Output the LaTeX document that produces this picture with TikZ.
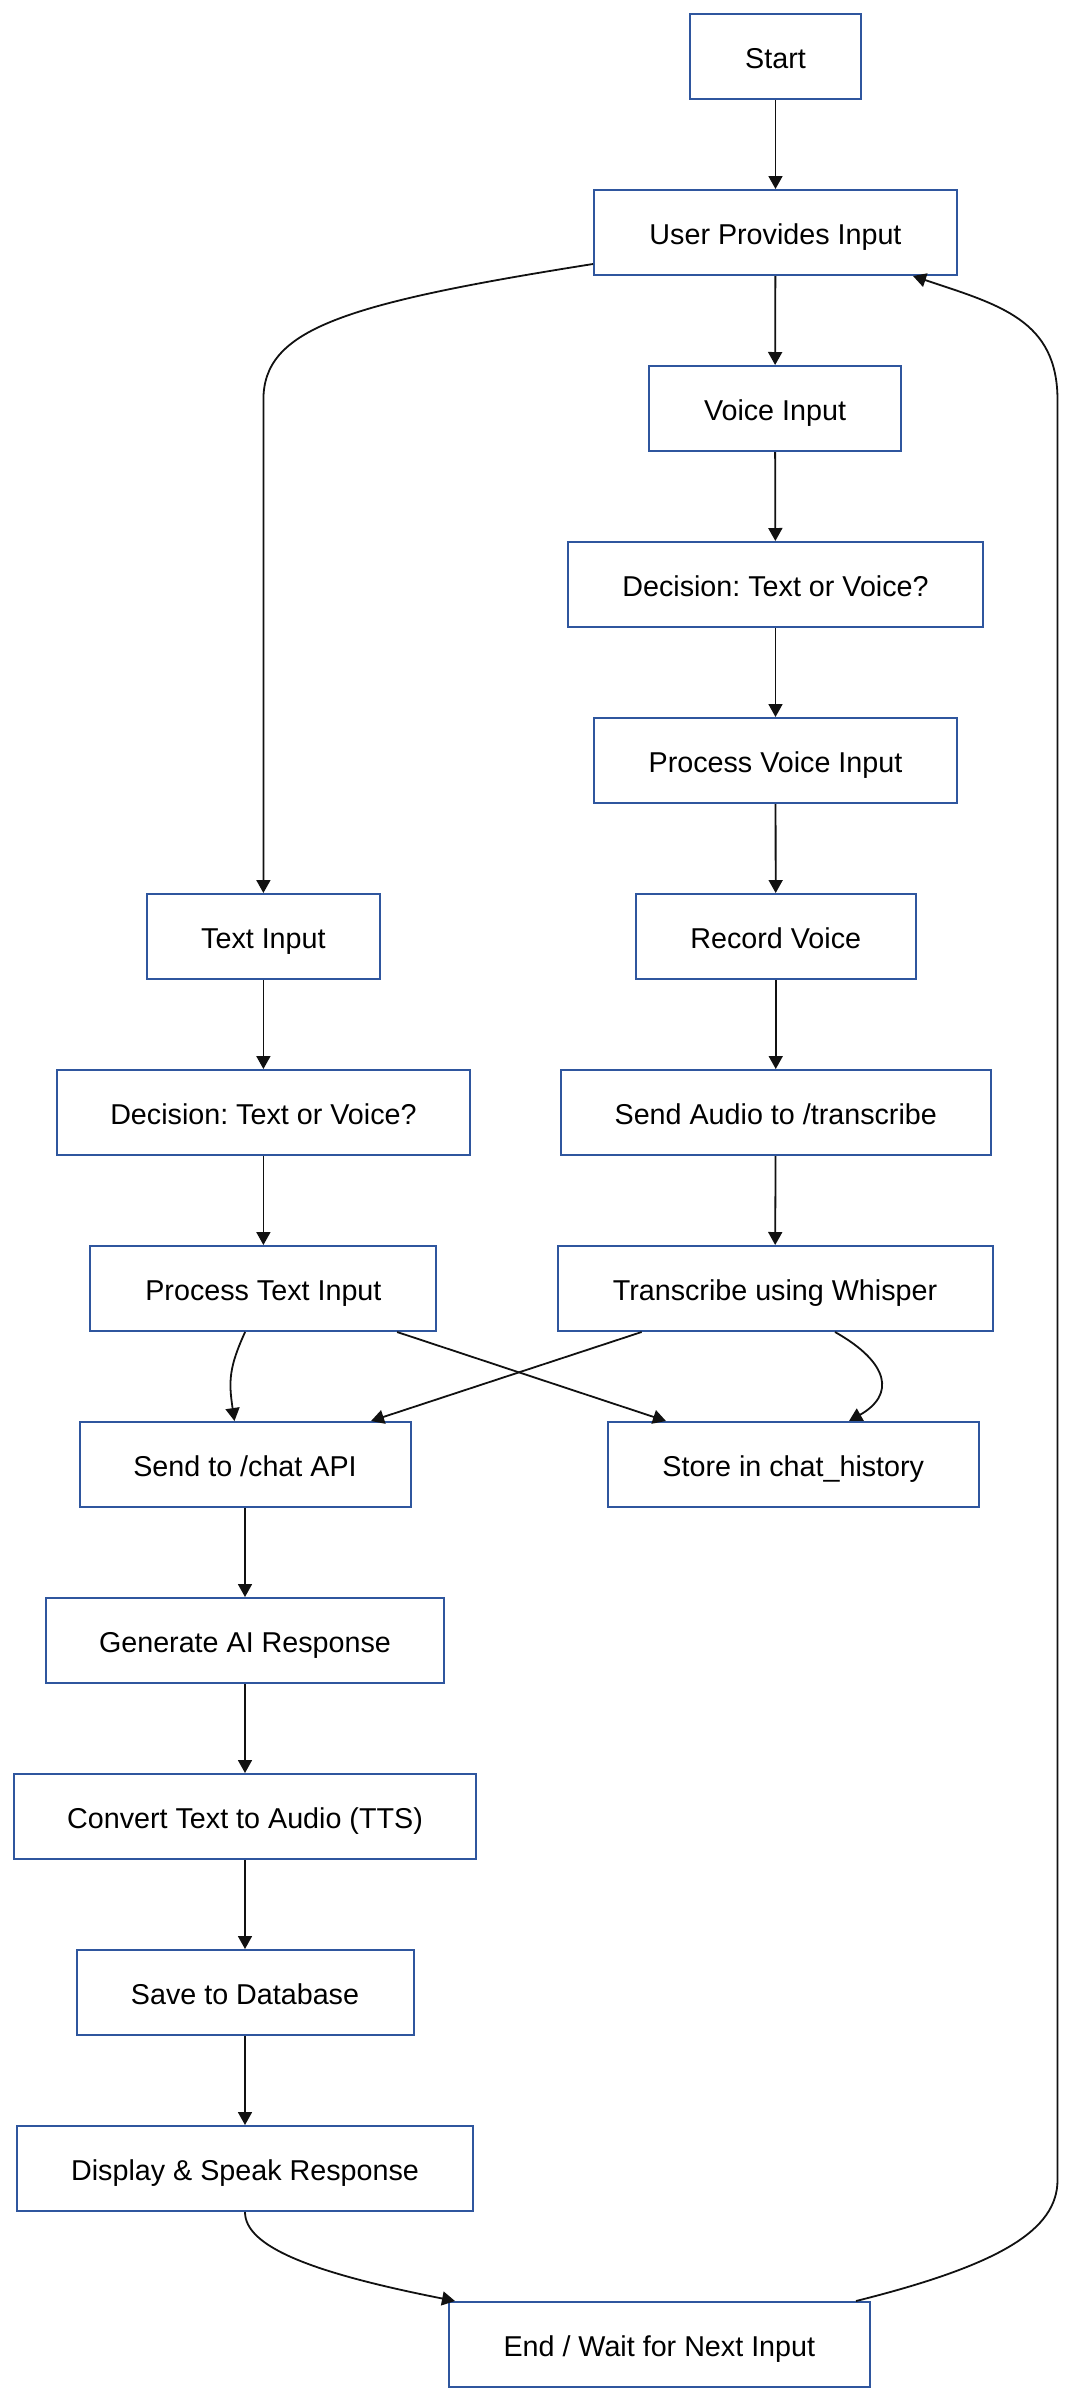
\documentclass[tikz,border=0pt]{standalone}
\usepackage{fontspec}
\setmainfont{Liberation Sans}
\usetikzlibrary{arrows.meta}
\definecolor{boxblue}{RGB}{47,86,158}
\definecolor{edgecol}{RGB}{17,17,17}
\frenchspacing
\tikzset{
  box/.style={draw=boxblue, line width=1pt, fill=white, minimum height=42.5pt,
    inner sep=0pt, text height=15pt, text depth=2.8pt,
    font=\fontsize{14.35}{17}\selectfont\frenchspacing, text=black},
  edge/.style={draw=edgecol, line width=0.9pt, -{Triangle[length=6.5pt,width=7pt]}},
}
\begin{document}
\begin{tikzpicture}[x=0.5pt,y=-0.5pt]
\useasboundingbox (0,0) rectangle (1072,2400);
% right column
\node[box, minimum width=85.5pt]  (start)  at (775.5,56.5)  {Start};
\node[box, minimum width=181.5pt] (user)   at (775.5,232.5) {User Provides Input};
\node[box, minimum width=126pt]   (voice)  at (775,408.5)   {Voice Input};
\node[box, minimum width=207.5pt] (decr)   at (775.5,584.5) {Decision: Text or Voice?};
\node[box, minimum width=181.5pt] (pvoice) at (775.5,760.5) {Process Voice Input};
\node[box, minimum width=140pt]   (record) at (775.75,936.5) {Record Voice};
\node[box, minimum width=215pt]   (saudio) at (775.75,1112.5) {Send Audio to /transcribe};
\node[box, minimum width=217.5pt] (trans)  at (775,1288.5)  {Transcribe using Whisper};
% left column
\node[box, minimum width=116.5pt] (textin) at (263.4,936.5)  {Text Input};
\node[box, minimum width=206.5pt] (decl)   at (263.4,1112.5) {Decision: Text or Voice?};
\node[box, minimum width=173pt]   (ptext)  at (263.4,1288.5) {Process Text Input};
\node[box, minimum width=165.5pt] (schat)  at (245,1464.5)   {Send to /chat API};
\node[box, minimum width=185.5pt] (store)  at (793.3,1464.5) {Store in chat\_history};
\node[box, minimum width=199pt]   (gen)    at (245,1640.5)   {Generate AI Response};
\node[box, minimum width=231pt]   (tts)    at (245,1816.5)   {Convert Text to Audio (TTS)};
\node[box, minimum width=168.5pt] (savedb) at (245,1992.5)   {Save to Database};
\node[box, minimum width=228pt]   (disp)   at (245,2168.5)   {Display \& Speak Response};
\node[box, minimum width=210.5pt] (endn)   at (659.3,2344.5) {End / Wait for Next Input};
% straight edges
\draw[edge] (start) -- (user);
\draw[edge] (user) -- (voice);
\draw[edge] (voice) -- (decr);
\draw[edge] (decr) -- (pvoice);
\draw[edge] (pvoice) -- (record);
\draw[edge] (record) -- (saudio);
\draw[edge] (saudio) -- (trans);
\draw[edge] (textin) -- (decl);
\draw[edge] (decl) -- (ptext);
\draw[edge] (schat) -- (gen);
\draw[edge] (gen) -- (tts);
\draw[edge] (tts) -- (savedb);
\draw[edge] (savedb) -- (disp);
% user -> text input
\coordinate (lbend) at (263.4,400);
\draw[edge] ([yshift=-15.75pt]user.west) .. controls (340,304) and (263.4,330) .. (lbend) -- (textin.north);
% crossings
\draw[edge] ([xshift=-9.15pt]ptext.south) .. controls +(-16,35) and +(-6,-40) .. ([xshift=-5.25pt]schat.north);
\draw[edge] ([xshift=66.85pt]ptext.south) -- ([xshift=-63.65pt]store.north);
\draw[edge] ([xshift=-66.7pt]trans.south) -- ([xshift=63pt]schat.north);
\draw[edge] ([xshift=30pt]trans.south) .. controls +(55,31) and +(46,-26) .. ([xshift=27.85pt]store.north);
% display -> end
\draw[edge] (disp.south) .. controls +(0,35) and +(-142,-28) .. ([xshift=-102.15pt]endn.north);
% loop back
\coordinate (rbot) at (1057.5,2180);
\coordinate (rtop) at (1057.5,400);
\draw[edge] ([xshift=98.35pt]endn.north) .. controls (1000,2265) and (1057.5,2230) .. (rbot)
  -- (rtop) .. controls (1057.5,320) and (1000,305) .. ([xshift=68.75pt]user.south);
\end{tikzpicture}
\end{document}
